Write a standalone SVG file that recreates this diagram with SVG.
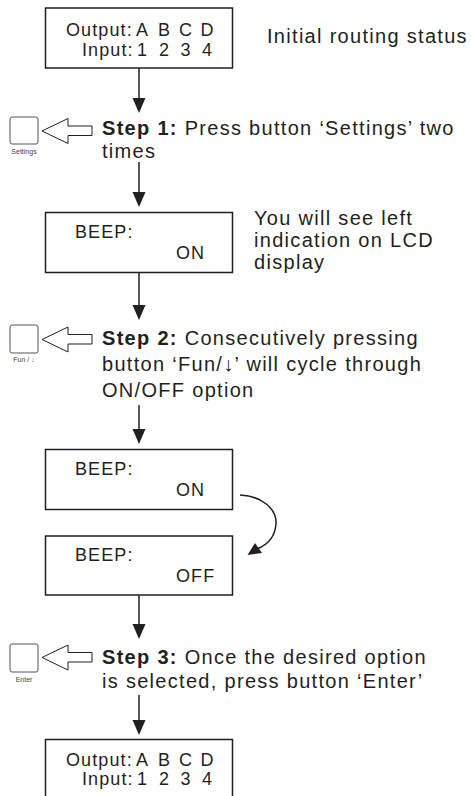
<svg xmlns="http://www.w3.org/2000/svg" width="471" height="796" viewBox="0 0 471 796">
<style>
  .box{fill:#fff;stroke:#231f20;stroke-width:1.5}
  .btn{fill:#fff;stroke:#555;stroke-width:1}
  .hollow{fill:#fff;stroke:#231f20;stroke-width:1;stroke-linejoin:miter}
  .ln{stroke:#231f20;stroke-width:1.5;fill:none}
  .head{fill:#231f20}
  .t{font-family:"Liberation Sans",Arial,sans-serif;font-size:20px;letter-spacing:1.3px;fill:#231f20}
  .b{font-weight:bold}
  .lcd{font-family:"Liberation Sans",Arial,sans-serif;font-size:18px;letter-spacing:1.1px;fill:#231f20}
  .ch{font-family:"Liberation Sans",Arial,sans-serif;font-size:18px;fill:#231f20;text-anchor:middle}
  .sm{font-family:"Liberation Sans",Arial,sans-serif;font-size:7px;fill:#444;text-anchor:middle}
</style>
<rect width="471" height="796" fill="#fff"/>

<g id="connectors">
  <line class="ln" x1="139" y1="68" x2="139" y2="100"/>
  <polygon class="head" points="132.5,98 145.5,98 139,113"/>
  <line class="ln" x1="139" y1="162" x2="139" y2="194"/>
  <polygon class="head" points="132.5,192 145.5,192 139,207"/>
  <line class="ln" x1="139" y1="273" x2="139" y2="307"/>
  <polygon class="head" points="132.5,305 145.5,305 139,320"/>
  <line class="ln" x1="139" y1="405" x2="139" y2="431"/>
  <polygon class="head" points="132.5,429 145.5,429 139,444"/>
  <line class="ln" x1="139" y1="595" x2="139" y2="626"/>
  <polygon class="head" points="132.5,624 145.5,624 139,639"/>
  <line class="ln" x1="139" y1="695" x2="139" y2="722"/>
  <polygon class="head" points="132.5,720 145.5,720 139,735"/>
  <path class="ln" d="M240,495 C262,496 277,509 276,524 C275,537 267,545 257,549"/>
  <polygon class="head" points="247.5,555 255,543 262,553"/>
</g>

<g id="status1">
  <rect class="box" x="45.5" y="8" width="187" height="60"/>
  <text class="lcd" x="66" y="36">Output:</text>
  <text class="lcd" x="82" y="56">Input:</text>
  <text class="ch" x="142" y="36">A</text><text class="ch" x="164" y="36">B</text><text class="ch" x="185.5" y="36">C</text><text class="ch" x="207" y="36">D</text>
  <text class="ch" x="142" y="56">1</text><text class="ch" x="164" y="56">2</text><text class="ch" x="185.5" y="56">3</text><text class="ch" x="207" y="56">4</text>
</g>
<g id="initial-label">
  <text class="t" x="267" y="43">Initial routing status</text>
</g>

<g id="step1">
  <rect class="btn" x="10" y="117" width="28" height="27" rx="2"/>
  <text class="sm" x="24" y="154">Settings</text>
  <polygon class="hollow" points="42,131 68,118.5 68,126 92,126 92,135.5 68,135.5 68,143.5"/>
  <text class="t" x="102" y="135"><tspan class="b">Step 1:</tspan> Press button ‘Settings’ two</text>
  <text class="t" x="102" y="158">times</text>
</g>

<g id="beep-on-1">
  <rect class="box" x="45.5" y="212.5" width="187" height="60"/>
  <text class="lcd" x="75" y="238">BEEP:</text>
  <text class="lcd" x="176" y="259">ON</text>
</g>
<g id="lcd-note">
  <text class="t" x="254" y="225">You will see left</text>
  <text class="t" x="254" y="247">indication on LCD</text>
  <text class="t" x="254" y="269">display</text>
</g>

<g id="step2">
  <rect class="btn" x="10" y="325" width="28" height="28" rx="2"/>
  <text class="sm" x="24" y="362">Fun / ↓</text>
  <polygon class="hollow" points="42,339.5 68,327 68,334.5 92,334.5 92,344 68,344 68,352"/>
  <text class="t" x="102" y="345"><tspan class="b">Step 2:</tspan> Consecutively pressing</text>
  <text class="t" x="102" y="371">button ‘Fun/↓’ will cycle through</text>
  <text class="t" x="102" y="397">ON/OFF option</text>
</g>

<g id="beep-on-2">
  <rect class="box" x="45.5" y="449.5" width="187" height="60"/>
  <text class="lcd" x="75" y="475">BEEP:</text>
  <text class="lcd" x="176" y="496">ON</text>
</g>

<g id="beep-off">
  <rect class="box" x="45.5" y="536" width="187" height="59"/>
  <text class="lcd" x="75" y="561">BEEP:</text>
  <text class="lcd" x="176" y="582">OFF</text>
</g>

<g id="step3">
  <rect class="btn" x="10" y="644" width="28" height="28" rx="2"/>
  <text class="sm" x="24" y="682">Enter</text>
  <polygon class="hollow" points="42,657.5 68,645 68,652.5 92,652.5 92,662 68,662 68,670"/>
  <text class="t" x="102" y="664"><tspan class="b">Step 3:</tspan> Once the desired option</text>
  <text class="t" x="102" y="688">is selected, press button ‘Enter’</text>
</g>

<g id="status2">
  <rect class="box" x="45.5" y="739.5" width="187" height="62"/>
  <text class="lcd" x="66" y="766">Output:</text>
  <text class="lcd" x="82" y="785">Input:</text>
  <text class="ch" x="142" y="766">A</text><text class="ch" x="164" y="766">B</text><text class="ch" x="185.5" y="766">C</text><text class="ch" x="207" y="766">D</text>
  <text class="ch" x="142" y="785">1</text><text class="ch" x="164" y="785">2</text><text class="ch" x="185.5" y="785">3</text><text class="ch" x="207" y="785">4</text>
</g>
</svg>
